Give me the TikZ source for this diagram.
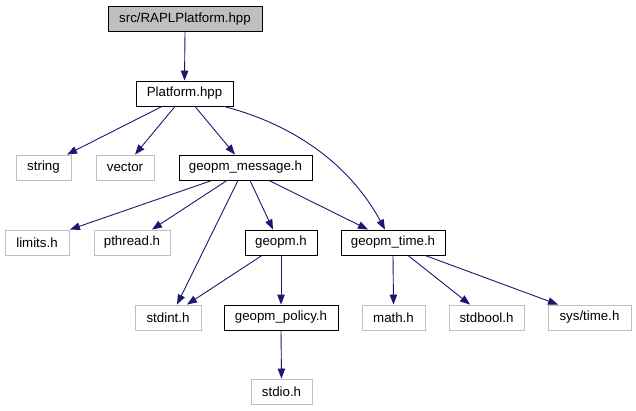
\documentclass[tikz,border=0pt]{standalone}
\usepackage{fontspec}
\setmainfont{Liberation Sans}
\usetikzlibrary{arrows.meta}
\definecolor{edgeblue}{HTML}{191970}
\definecolor{lightbd}{HTML}{BFBFBF}
\begin{document}
\begin{tikzpicture}[x=1pt,y=-1pt,
  box/.style={draw=black,line width=0.9pt,minimum height=25pt,inner sep=0pt,
    font=\fontsize{13.3}{15}\selectfont,fill=white},
  sysbox/.style={box,draw=lightbd},
  rootbox/.style={box,fill=lightbd},
  dep/.style={draw=edgeblue,line width=0.9pt,-{Triangle[length=10pt,width=7.5pt]}}]
\useasboundingbox (0,0) rectangle (636,411);
% nodes
\node[rootbox,minimum width=154pt] (rapl) at (185,19) {src/RAPLPlatform.hpp};
\node[box,minimum width=97pt] (plat) at (184.5,93.5) {Platform.hpp};
\node[sysbox,minimum width=55pt] (string) at (43.5,167.5) {string};
\node[sysbox,minimum width=58pt] (vector) at (125,167.5) {vector};
\node[box,minimum width=133pt] (gmsg) at (245.5,167.5) {geopm\_message.h};
\node[sysbox,minimum width=64pt] (limits) at (37,242.5) {limits.h};
\node[sysbox,minimum width=76pt] (pthread) at (132,242.5) {pthread.h};
\node[box,minimum width=72pt] (geopm) at (281,242.5) {geopm.h};
\node[box,minimum width=104pt] (gtime) at (393,242.5) {geopm\_time.h};
\node[sysbox,minimum width=66pt] (stdint) at (168,317.5) {stdint.h};
\node[box,minimum width=114pt] (gpol) at (281,317.5) {geopm\_policy.h};
\node[sysbox,minimum width=63pt] (math) at (393.5,317.5) {math.h};
\node[sysbox,minimum width=75pt] (stdbool) at (486.5,317.5) {stdbool.h};
\node[sysbox,minimum width=83pt] (systime) at (589.5,317.5) {sys/time.h};
\node[sysbox,minimum width=61pt] (stdio) at (281.5,391.5) {stdio.h};
% edges
\draw[dep] (rapl.south) -- (plat.north);
\draw[dep] ([xshift=-22.5pt]plat.south) -- ([xshift=23.5pt]string.north);
\draw[dep] ([xshift=-9.5pt]plat.south) -- ([xshift=10pt]vector.north);
\draw[dep] ([xshift=10.5pt]plat.south) -- ([xshift=-10.5pt]gmsg.north);
\draw[dep] ([xshift=39.5pt]plat.south) .. controls (295,125) and (350,165) .. ([xshift=-8pt]gtime.north);
\draw[dep] ([xshift=-33.5pt]gmsg.south) -- ([xshift=33pt]limits.north);
\draw[dep] ([xshift=-18.5pt]gmsg.south) -- ([xshift=20pt]pthread.north);
\draw[dep] ([xshift=-7.5pt]gmsg.south) -- ([xshift=9pt]stdint.north);
\draw[dep] ([xshift=4.5pt]gmsg.south) -- ([xshift=-8pt]geopm.north);
\draw[dep] ([xshift=23.5pt]gmsg.south) -- ([xshift=-25pt]gtime.north);
\draw[dep] ([xshift=-19pt]geopm.south) -- ([xshift=19pt]stdint.north);
\draw[dep] (geopm.south) -- (gpol.north);
\draw[dep] (gpol.south) -- (stdio.north);
\draw[dep] (gtime.south) -- (math.north);
\draw[dep] ([xshift=15pt]gtime.south) -- ([xshift=-16.5pt]stdbool.north);
\draw[dep] ([xshift=32pt]gtime.south) -- ([xshift=-31.5pt]systime.north);
\end{tikzpicture}
\end{document}
